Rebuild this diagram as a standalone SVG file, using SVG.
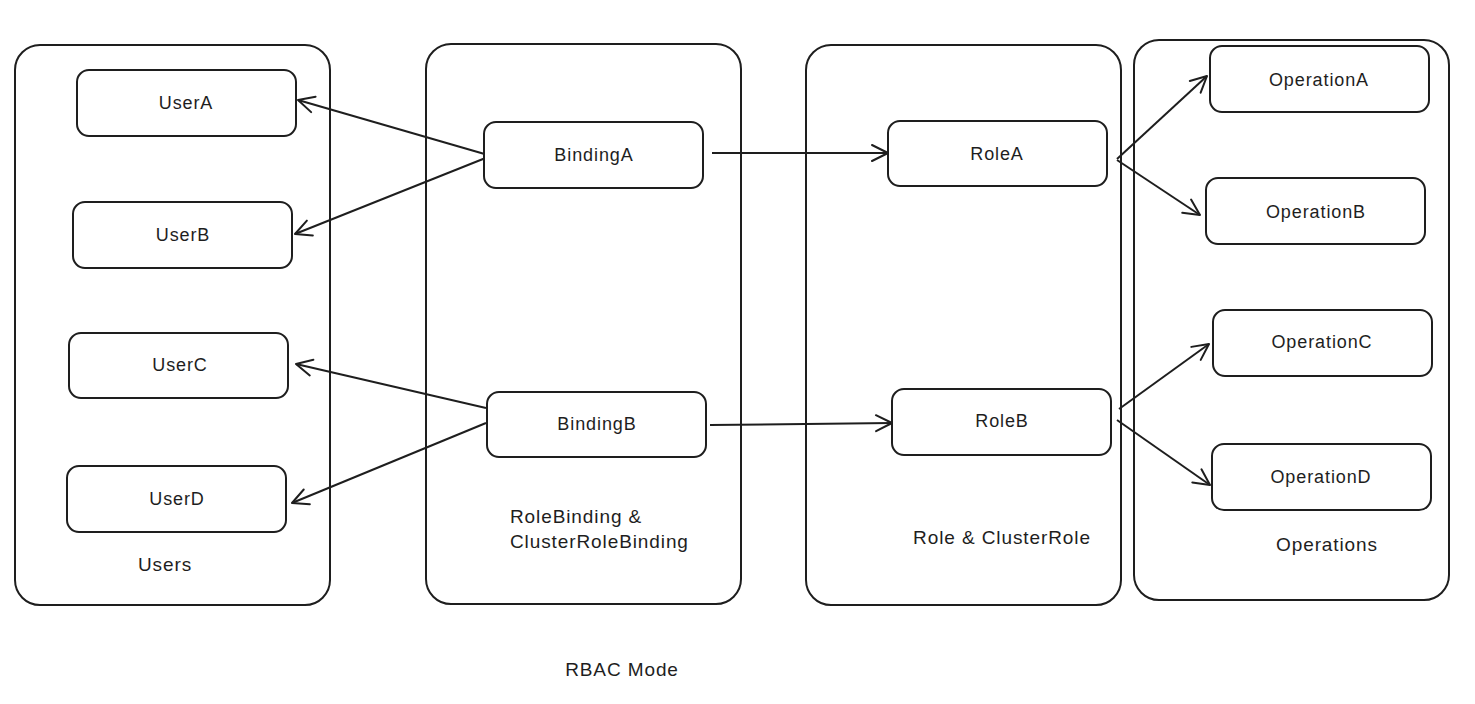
<svg xmlns="http://www.w3.org/2000/svg" width="1475" height="704" viewBox="0 0 1475 704">
<style>
.box{fill:#fff;stroke:#1e1e1e;stroke-width:2}
.cont{fill:none;stroke:#1e1e1e;stroke-width:2}
.lbl{font-family:"Liberation Sans","DejaVu Sans",sans-serif;font-size:18px;letter-spacing:0.9px;fill:#1e1e1e;text-anchor:middle;dominant-baseline:central}
.cap{font-family:"Liberation Sans","DejaVu Sans",sans-serif;font-size:19px;letter-spacing:0.9px;fill:#1e1e1e}
.edge{fill:none;stroke:#1e1e1e;stroke-width:2;marker-end:url(#arr)}
</style>
<defs>
<marker id="arr" viewBox="0 0 20 20" refX="18" refY="10" markerWidth="20" markerHeight="20" markerUnits="userSpaceOnUse" orient="auto">
<path d="M2,2 L18,10 L2,18" fill="none" stroke="#1e1e1e" stroke-width="2" stroke-linecap="round" stroke-linejoin="round"/>
</marker>
</defs>
<rect width="1475" height="704" fill="#fff"/>
<g id="containers">
<g id="c-users"><rect class="cont" x="15" y="45" width="315" height="560" rx="25"/><text class="cap" x="165" y="571" text-anchor="middle">Users</text></g>
<g id="c-bindings"><rect class="cont" x="426" y="44" width="315" height="560" rx="25"/><text class="cap" x="510" y="523">RoleBinding &amp;</text><text class="cap" x="510" y="548">ClusterRoleBinding</text></g>
<g id="c-roles"><rect class="cont" x="806" y="45" width="315" height="560" rx="25"/><text class="cap" x="1002" y="544" text-anchor="middle">Role &amp; ClusterRole</text></g>
<g id="c-ops"><rect class="cont" x="1134" y="40" width="315" height="560" rx="25"/><text class="cap" x="1327" y="551" text-anchor="middle">Operations</text></g>
</g>
<g id="connectors">
<line class="edge" x1="488" y1="155" x2="298" y2="100"/>
<line class="edge" x1="488" y1="157" x2="295" y2="234"/>
<line class="edge" x1="486" y1="408" x2="296" y2="364"/>
<line class="edge" x1="486" y1="423" x2="292" y2="503"/>
<line class="edge" x1="712" y1="153" x2="888" y2="153"/>
<line class="edge" x1="710" y1="425" x2="892" y2="423"/>
<line class="edge" x1="1117" y1="159" x2="1207" y2="76"/>
<line class="edge" x1="1117" y1="160" x2="1200" y2="215"/>
<line class="edge" x1="1119" y1="409" x2="1209" y2="344"/>
<line class="edge" x1="1117" y1="420" x2="1210" y2="485"/>
</g>
<g id="userA"><rect class="box" x="77" y="70" width="219" height="66" rx="12"/><text class="lbl" x="186" y="103">UserA</text></g>
<g id="userB"><rect class="box" x="73" y="202" width="219" height="66" rx="12"/><text class="lbl" x="183" y="235">UserB</text></g>
<g id="userC"><rect class="box" x="69" y="333" width="219" height="65" rx="12"/><text class="lbl" x="180" y="365">UserC</text></g>
<g id="userD"><rect class="box" x="67" y="466" width="219" height="66" rx="12"/><text class="lbl" x="177" y="499">UserD</text></g>
<g id="bindingA"><rect class="box" x="484" y="122" width="219" height="66" rx="12"/><text class="lbl" x="594" y="155">BindingA</text></g>
<g id="bindingB"><rect class="box" x="487" y="392" width="219" height="65" rx="12"/><text class="lbl" x="597" y="424">BindingB</text></g>
<g id="roleA"><rect class="box" x="888" y="121" width="219" height="65" rx="12"/><text class="lbl" x="997" y="154">RoleA</text></g>
<g id="roleB"><rect class="box" x="892" y="389" width="219" height="66" rx="12"/><text class="lbl" x="1002" y="421">RoleB</text></g>
<g id="opA"><rect class="box" x="1210" y="46" width="219" height="66" rx="12"/><text class="lbl" x="1319" y="80">OperationA</text></g>
<g id="opB"><rect class="box" x="1206" y="178" width="219" height="66" rx="12"/><text class="lbl" x="1316" y="212">OperationB</text></g>
<g id="opC"><rect class="box" x="1213" y="310" width="219" height="66" rx="12"/><text class="lbl" x="1322" y="342">OperationC</text></g>
<g id="opD"><rect class="box" x="1212" y="444" width="219" height="66" rx="12"/><text class="lbl" x="1321" y="477">OperationD</text></g>
<text class="cap" x="622" y="676" text-anchor="middle">RBAC Mode</text>
</svg>
